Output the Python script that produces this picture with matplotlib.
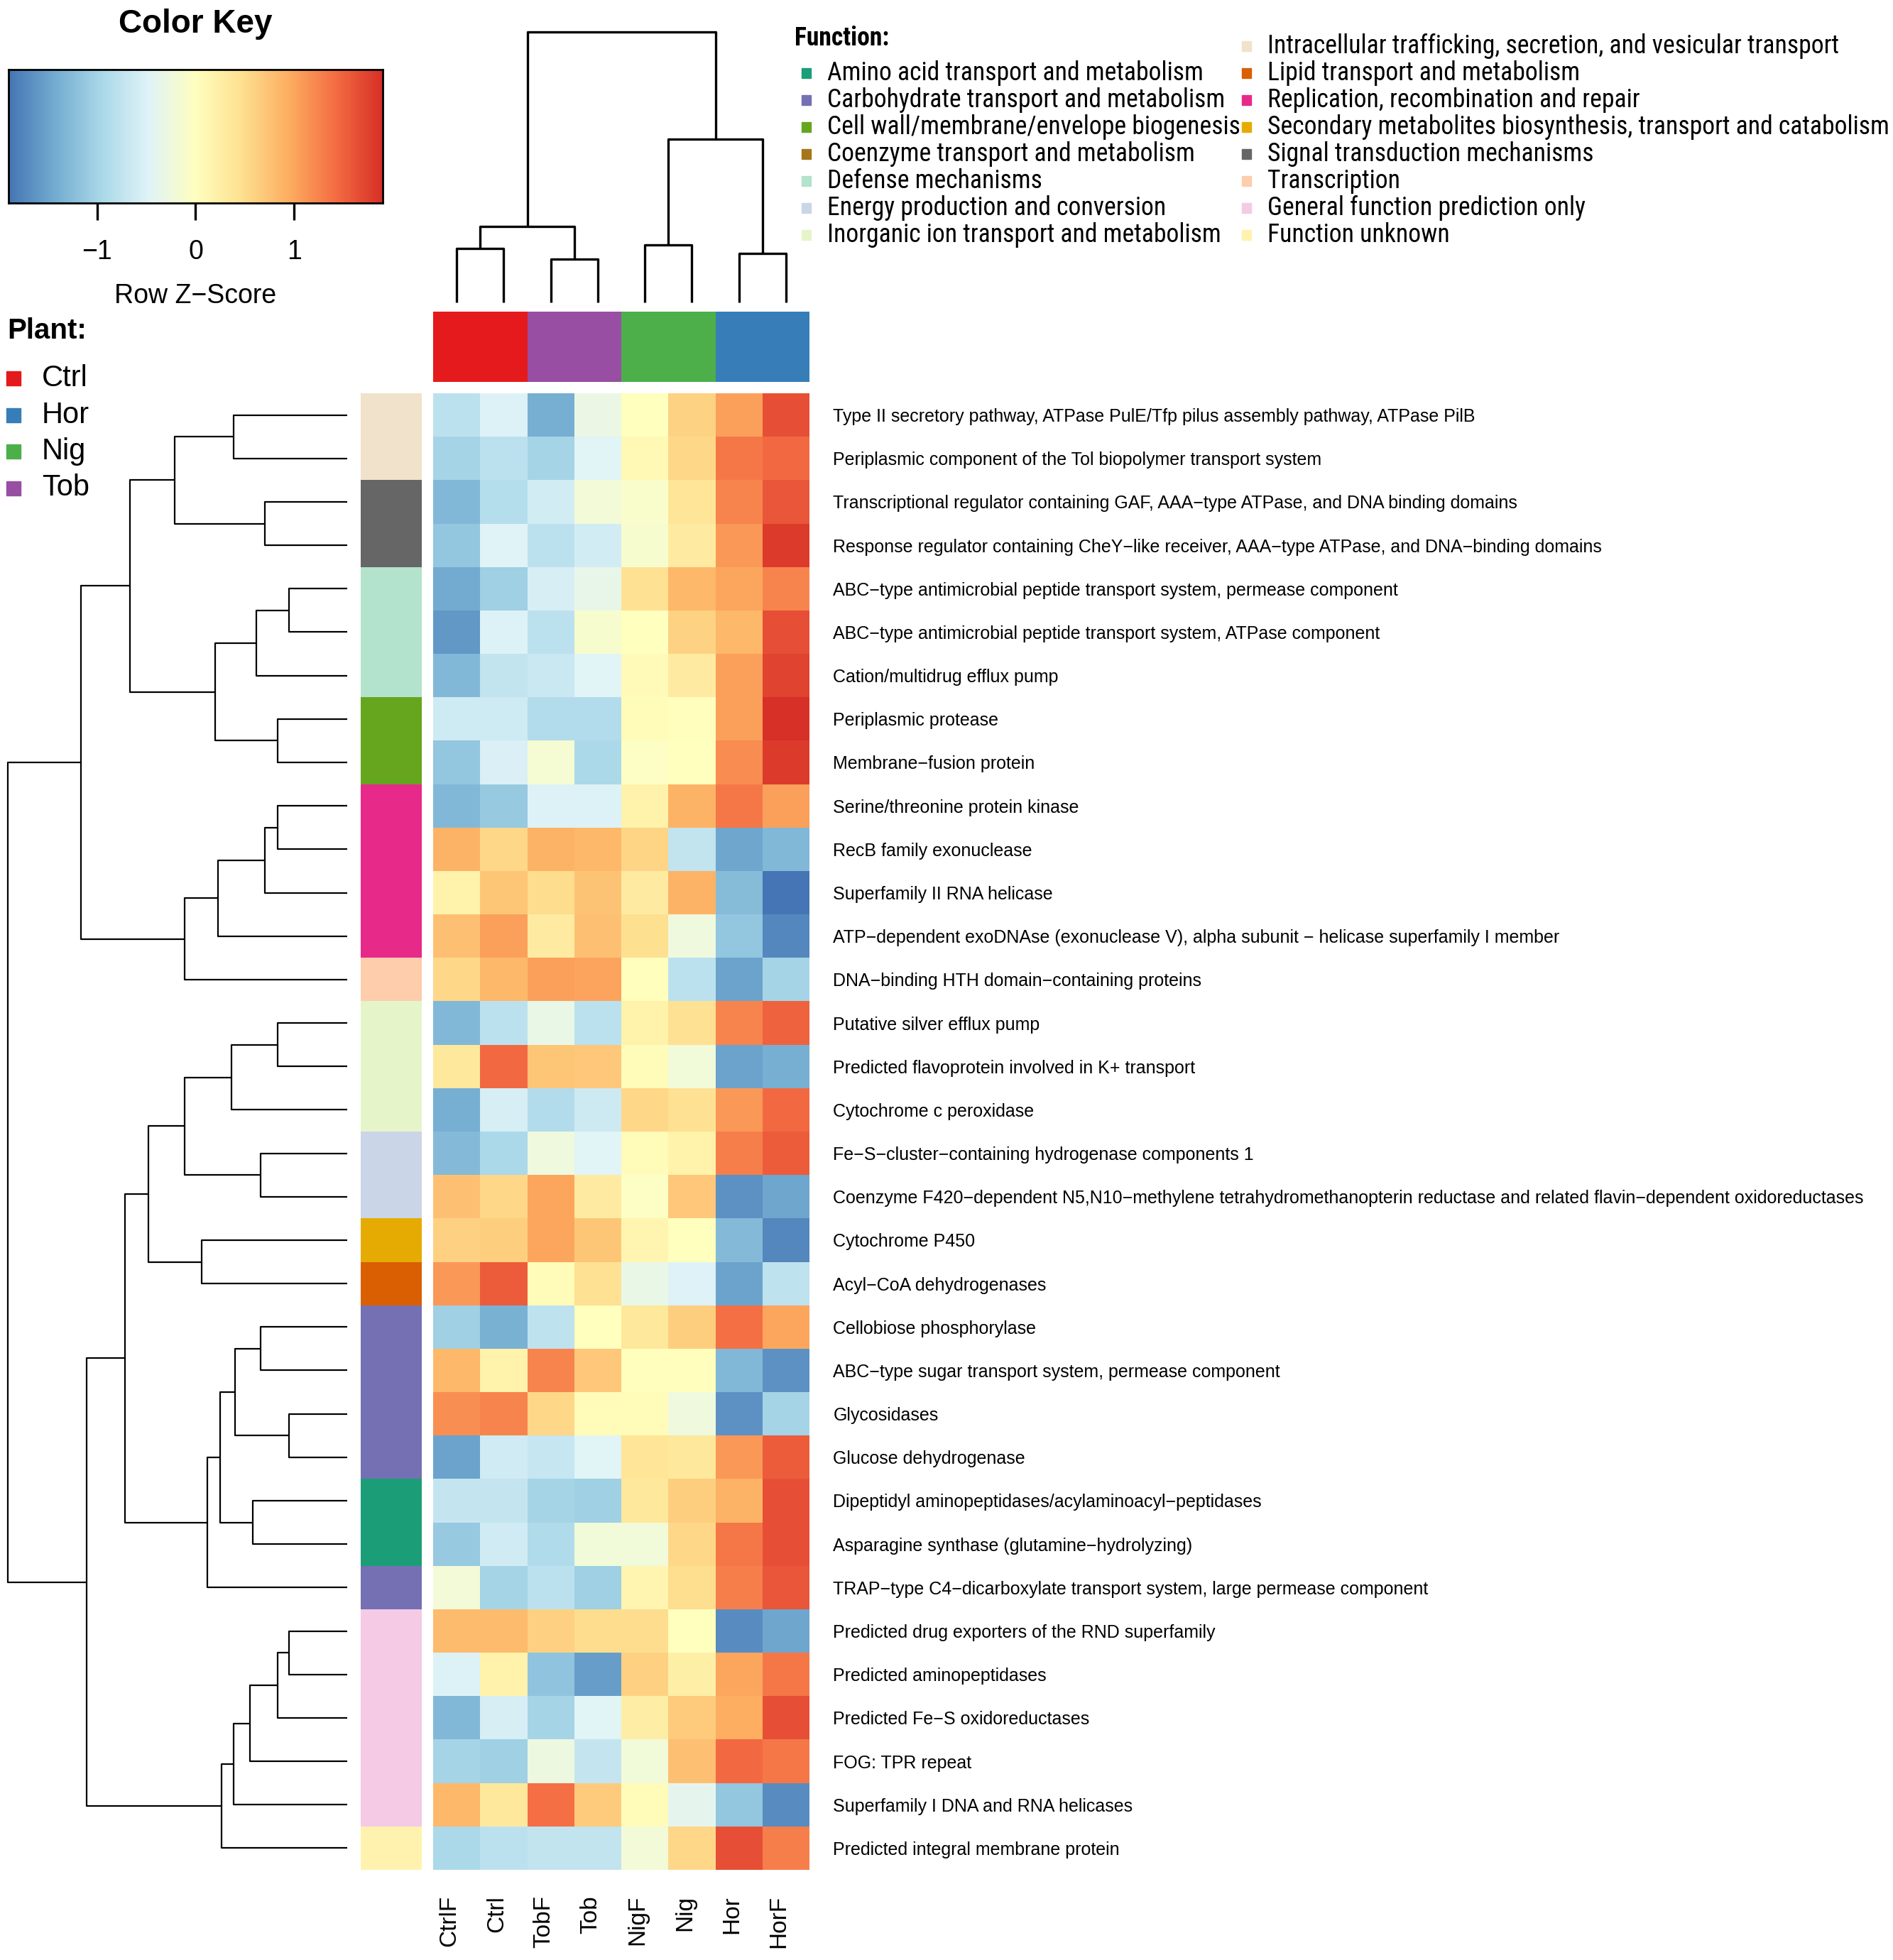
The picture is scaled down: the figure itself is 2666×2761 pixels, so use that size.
import numpy as np
import matplotlib
matplotlib.use("Agg")
import matplotlib.pyplot as plt
from matplotlib import font_manager
from matplotlib.colors import LinearSegmentedColormap, ListedColormap
from matplotlib.patches import Rectangle
from matplotlib.transforms import ScaledTranslation

plt.rcParams['font.family'] = ['Liberation Sans', 'DejaVu Sans']

W, H = 2666, 2761

samples = ["CtrlF", "Ctrl", "TobF", "Tob", "NigF", "Nig", "Hor", "HorF"]
sample_plant = ["Ctrl", "Ctrl", "Tob", "Tob", "Nig", "Nig", "Hor", "Hor"]
plants = ["Ctrl", "Hor", "Nig", "Tob"]
plant_colors = ["#e41a1c", "#377eb8", "#4daf4a", "#984ea3"]

functions = [
    "Amino acid transport and metabolism",
    "Carbohydrate transport and metabolism",
    "Cell wall/membrane/envelope biogenesis",
    "Coenzyme transport and metabolism",
    "Defense mechanisms",
    "Energy production and conversion",
    "Inorganic ion transport and metabolism",
    "Intracellular trafficking, secretion, and vesicular transport",
    "Lipid transport and metabolism",
    "Replication, recombination and repair",
    "Secondary metabolites biosynthesis, transport and catabolism",
    "Signal transduction mechanisms",
    "Transcription",
    "General function prediction only",
    "Function unknown",
]
function_colors = ["#1b9e77", "#7570b3", "#66a61e", "#a6761d", "#b3e2cd", "#cbd5e8",
                   "#e6f5c9", "#f1e2cc", "#d95f02", "#e7298a", "#e6ab02", "#666666",
                   "#fdcdac", "#f4cae4", "#fff2ae"]

genes = [
    "Type II secretory pathway, ATPase PulE/Tfp pilus assembly pathway, ATPase PilB",
    "Periplasmic component of the Tol biopolymer transport system",
    "Transcriptional regulator containing GAF, AAA\u2212type ATPase, and DNA binding domains",
    "Response regulator containing CheY\u2212like receiver, AAA\u2212type ATPase, and DNA\u2212binding domains",
    "ABC\u2212type antimicrobial peptide transport system, permease component",
    "ABC\u2212type antimicrobial peptide transport system, ATPase component",
    "Cation/multidrug efflux pump",
    "Periplasmic protease",
    "Membrane\u2212fusion protein",
    "Serine/threonine protein kinase",
    "RecB family exonuclease",
    "Superfamily II RNA helicase",
    "ATP\u2212dependent exoDNAse (exonuclease V), alpha subunit \u2212 helicase superfamily I member",
    "DNA\u2212binding HTH domain\u2212containing proteins",
    "Putative silver efflux pump",
    "Predicted flavoprotein involved in K+ transport",
    "Cytochrome c peroxidase",
    "Fe\u2212S\u2212cluster\u2212containing hydrogenase components 1",
    "Coenzyme F420\u2212dependent N5,N10\u2212methylene tetrahydromethanopterin reductase and related flavin\u2212dependent oxidoreductases",
    "Cytochrome P450",
    "Acyl\u2212CoA dehydrogenases",
    "Cellobiose phosphorylase",
    "ABC\u2212type sugar transport system, permease component",
    "Glycosidases",
    "Glucose dehydrogenase",
    "Dipeptidyl aminopeptidases/acylaminoacyl\u2212peptidases",
    "Asparagine synthase (glutamine\u2212hydrolyzing)",
    "TRAP\u2212type C4\u2212dicarboxylate transport system, large permease component",
    "Predicted drug exporters of the RND superfamily",
    "Predicted aminopeptidases",
    "Predicted Fe\u2212S oxidoreductases",
    "FOG: TPR repeat",
    "Superfamily I DNA and RNA helicases",
    "Predicted integral membrane protein",
]

gene_function = [7, 7, 11, 11, 4, 4, 4, 2, 2, 9, 9, 9, 9, 12, 6, 6, 6, 5, 5, 10, 8,
                 1, 1, 1, 1, 0, 0, 1, 13, 13, 13, 13, 13, 14]

# row z-scores, columns in the order of `samples`
zscore = np.array([
    [-0.80, -0.50, -1.40, -0.30, 0.00, 0.60, 1.05, 1.65],
    [-1.00, -0.80, -1.00, -0.45, 0.10, 0.55, 1.35, 1.45],
    [-1.30, -0.85, -0.60, -0.20, -0.10, 0.40, 1.25, 1.60],
    [-1.15, -0.47, -0.80, -0.60, -0.12, 0.30, 1.10, 1.80],
    [-1.43, -1.05, -0.55, -0.35, 0.45, 0.85, 1.00, 1.25],
    [-1.60, -0.50, -0.80, -0.12, 0.00, 0.60, 0.85, 1.65],
    [-1.30, -0.75, -0.68, -0.45, 0.08, 0.30, 1.05, 1.75],
    [-0.63, -0.63, -0.88, -0.88, 0.05, 0.02, 1.05, 1.90],
    [-1.15, -0.53, -0.15, -0.95, -0.05, 0.00, 1.20, 1.80],
    [-1.30, -1.12, -0.50, -0.50, 0.20, 0.90, 1.35, 1.05],
    [0.90, 0.55, 0.90, 0.85, 0.58, -0.75, -1.48, -1.30],
    [0.20, 0.72, 0.50, 0.75, 0.30, 0.90, -1.25, -1.90],
    [0.78, 1.05, 0.30, 0.78, 0.47, -0.25, -1.15, -1.75],
    [0.55, 0.85, 1.05, 1.02, 0.02, -0.80, -1.50, -1.00],
    [-1.30, -0.80, -0.33, -0.80, 0.20, 0.45, 1.25, 1.50],
    [0.35, 1.45, 0.72, 0.70, 0.05, -0.22, -1.50, -1.40],
    [-1.40, -0.55, -0.88, -0.65, 0.55, 0.45, 1.10, 1.45],
    [-1.28, -0.95, -0.25, -0.45, 0.06, 0.20, 1.30, 1.55],
    [0.78, 0.55, 1.00, 0.30, -0.05, 0.70, -1.65, -1.48],
    [0.62, 0.65, 1.00, 0.72, 0.15, 0.00, -1.28, -1.75],
    [1.10, 1.55, 0.07, 0.45, -0.33, -0.48, -1.50, -0.78],
    [-1.05, -1.38, -0.78, 0.00, 0.35, 0.65, 1.40, 1.00],
    [0.85, 0.20, 1.25, 0.70, 0.02, 0.02, -1.30, -1.65],
    [1.18, 1.25, 0.55, 0.06, 0.06, -0.25, -1.65, -1.00],
    [-1.50, -0.62, -0.70, -0.45, 0.40, 0.35, 1.10, 1.55],
    [-0.72, -0.72, -1.00, -1.05, 0.35, 0.65, 0.90, 1.65],
    [-1.12, -0.62, -0.92, -0.22, -0.22, 0.55, 1.35, 1.65],
    [-0.20, -1.00, -0.80, -1.05, 0.15, 0.48, 1.30, 1.60],
    [0.82, 0.82, 0.62, 0.50, 0.50, 0.00, -1.70, -1.48],
    [-0.50, 0.20, -1.18, -1.55, 0.62, 0.25, 1.00, 1.35],
    [-1.30, -0.55, -1.00, -0.45, 0.27, 0.68, 0.95, 1.65],
    [-1.00, -1.05, -0.27, -0.72, -0.22, 0.78, 1.45, 1.35],
    [0.85, 0.35, 1.40, 0.68, 0.05, -0.40, -1.15, -1.70],
    [-0.95, -0.80, -0.75, -0.75, -0.20, 0.55, 1.65, 1.30],
])

# merges (left, right, height); leaves are 0..n-1, merge k gets id n+k
row_merges = [
    (0, 1, 0.335), (2, 3, 0.242), (34, 35, 0.509), (4, 5, 0.172), (37, 6, 0.268),
    (7, 8, 0.204), (38, 39, 0.390), (36, 40, 0.640), (9, 10, 0.204), (42, 11, 0.242),
    (43, 12, 0.381), (44, 13, 0.479), (41, 45, 0.784), (14, 15, 0.204), (47, 16, 0.341),
    (17, 18, 0.255), (48, 49, 0.479), (19, 20, 0.429), (50, 51, 0.585), (21, 22, 0.255),
    (23, 24, 0.172), (53, 54, 0.330), (25, 26, 0.278), (55, 56, 0.375), (57, 27, 0.413),
    (52, 58, 0.654), (28, 29, 0.172), (60, 30, 0.204), (61, 31, 0.287), (62, 32, 0.335),
    (63, 33, 0.370), (59, 64, 0.768), (46, 65, 1.000),
]
col_merges = [
    (0, 1, 0.199), (2, 3, 0.160), (8, 9, 0.281), (4, 5, 0.213), (6, 7, 0.181),
    (11, 12, 0.604), (10, 13, 1.000),
]

zlim = 1.9
cmap = LinearSegmentedColormap.from_list(
    "rdylbu", ["#4575b4", "#74add1", "#abd9e9", "#e0f3f8", "#ffffbf",
               "#fee090", "#fdae61", "#f46d43", "#d73027"])

# a narrow face for the function legend, if one is installed
font_list = font_manager.fontManager.ttflist
font_names = {f.name for f in font_list}
narrow_family, narrow_stretch = 'Liberation Sans', 'normal'
for cand in ['Liberation Sans Narrow', 'Arial Narrow', 'Roboto Condensed',
             'Open Sans Condensed', 'Noto Sans Condensed']:
    if cand in font_names:
        narrow_family = cand
        break
else:
    if any(f.name == 'DejaVu Sans' and f.stretch == 'condensed' for f in font_list):
        narrow_family, narrow_stretch = 'DejaVu Sans', 'condensed'


def px_axes(fig, x0, y0, x1, y1):
    return fig.add_axes([x0 / W, 1 - y1 / H, (x1 - x0) / W, (y1 - y0) / H])


def dendro_lines(merges, n):
    pos = list(np.arange(n) + 0.5)
    hgt = [0.0] * n
    lines = []
    for a, b, h in merges:
        lines.append(([pos[a], pos[a], pos[b], pos[b]], [hgt[a], h, h, hgt[b]]))
        pos.append((pos[a] + pos[b]) / 2)
        hgt.append(h)
    return lines


fig = plt.figure(figsize=(W / 100, H / 100), dpi=100)

nrow, ncol = zscore.shape
hx0, hx1, hy0, hy1 = 610, 1140, 554, 2634

# heatmap
ax = px_axes(fig, hx0, hy0, hx1, hy1)
ax.pcolormesh(np.arange(ncol + 1), np.arange(nrow + 1), zscore, cmap=cmap,
              vmin=-zlim, vmax=zlim)
ax.set_xlim(0, ncol)
ax.set_ylim(nrow, 0)
for s in ax.spines.values():
    s.set_visible(False)
ax.set_yticks(np.arange(nrow) + 0.5)
ax.set_yticklabels(genes, fontsize=18)
ax.yaxis.tick_right()
ax.set_xticks(np.arange(ncol) + 0.5)
ax.set_xticklabels(samples, rotation=90, fontsize=24, va='top')
ax.tick_params(axis='y', length=0, pad=24)
ax.tick_params(axis='x', length=0, pad=26)
shift = ScaledTranslation(-0.10, 0, fig.dpi_scale_trans)
for lab in ax.get_xticklabels():
    lab.set_transform(lab.get_transform() + shift)

# row side colours
axr = px_axes(fig, 508, hy0, 594, hy1)
axr.pcolormesh(np.array(gene_function)[:, None], cmap=ListedColormap(function_colors),
               vmin=-0.5, vmax=len(functions) - 0.5)
axr.set_ylim(nrow, 0)
axr.axis('off')

# column side colours
axc = px_axes(fig, hx0, 439, hx1, 538)
plant_idx = [plants.index(p) for p in sample_plant]
axc.pcolormesh(np.array(plant_idx)[None, :], cmap=ListedColormap(plant_colors),
               vmin=-0.5, vmax=len(plants) - 0.5)
axc.axis('off')

# column dendrogram
axd = px_axes(fig, hx0, 45, hx1, 426)
for xs, ys in dendro_lines(col_merges, ncol):
    axd.plot(xs, ys, color='black', lw=2.4, solid_capstyle='butt', clip_on=False)
axd.set_xlim(0, ncol)
axd.set_ylim(0, 1)
axd.axis('off')

# row dendrogram
axrd = px_axes(fig, 11, hy0, 489, hy1)
for ys, xs in dendro_lines(row_merges, nrow):
    axrd.plot(xs, ys, color='black', lw=1.6, solid_capstyle='butt', clip_on=False)
axrd.set_xlim(1, 0)
axrd.set_ylim(nrow, 0)
axrd.axis('off')

# colour key
axk = px_axes(fig, 12, 98, 539, 286)
grad = np.linspace(-zlim, zlim, 512)[None, :]
axk.imshow(grad, cmap=cmap, aspect='auto', extent=[-zlim, zlim, 0, 1],
           vmin=-zlim, vmax=zlim)
axk.set_yticks([])
axk.set_xticks([-1, 0, 1])
axk.set_xticklabels(["\u22121", "0", "1"])
axk.tick_params(axis='x', length=17, width=2.4, pad=20, labelsize=27)
for s in axk.spines.values():
    s.set_linewidth(2)
fig.text(275 / W, 1 - 34 / H, "Color Key", fontsize=33, fontweight='bold',
         ha='center', va='center')
fig.text(275 / W, 1 - 417 / H, "Row Z\u2212Score", fontsize=27, ha='center', va='center')

# plant legend
fig.text(10 / W, 1 - 466 / H, "Plant:", fontsize=29, fontweight='bold', va='center')
for i, (p, c) in enumerate(zip(plants, plant_colors)):
    y = 533 + i * 51.5
    fig.add_artist(Rectangle((9 / W, 1 - (y + 10) / H), 20 / W, 20 / H,
                             color=c, transform=fig.transFigure))
    fig.text(59 / W, 1 - y / H, p, fontsize=30, va='center')

# function legend
fsize = 28
legend_texts = []
title = fig.text(1119 / W, 1 - 54 / H, "Function:", fontsize=fsize, fontweight='bold',
                 va='center', family=narrow_family, fontstretch=narrow_stretch)
for i, (f, c) in enumerate(zip(functions, function_colors)):
    if i < 7:
        x, y = 1129, 103 + i * 38
    else:
        x, y = 1749, 65 + (i - 7) * 38
    fig.add_artist(Rectangle((x / W, 1 - (y + 7) / H), 13 / W, 14 / H,
                             color=c, transform=fig.transFigure))
    legend_texts.append(fig.text((x + 36) / W, 1 - y / H, f, fontsize=fsize, va='center',
                                 family=narrow_family, fontstretch=narrow_stretch))

# fit the legend text to the width it takes in the original (~872 px for the longest)
renderer = fig.canvas.get_renderer()
longest = legend_texts[functions.index(
    "Secondary metabolites biosynthesis, transport and catabolism")]
width = longest.get_window_extent(renderer).width
scale = min(1.0, 872 / width)
for t in legend_texts + [title]:
    t.set_fontsize(fsize * scale)

fig.savefig("out.png", dpi=100)
